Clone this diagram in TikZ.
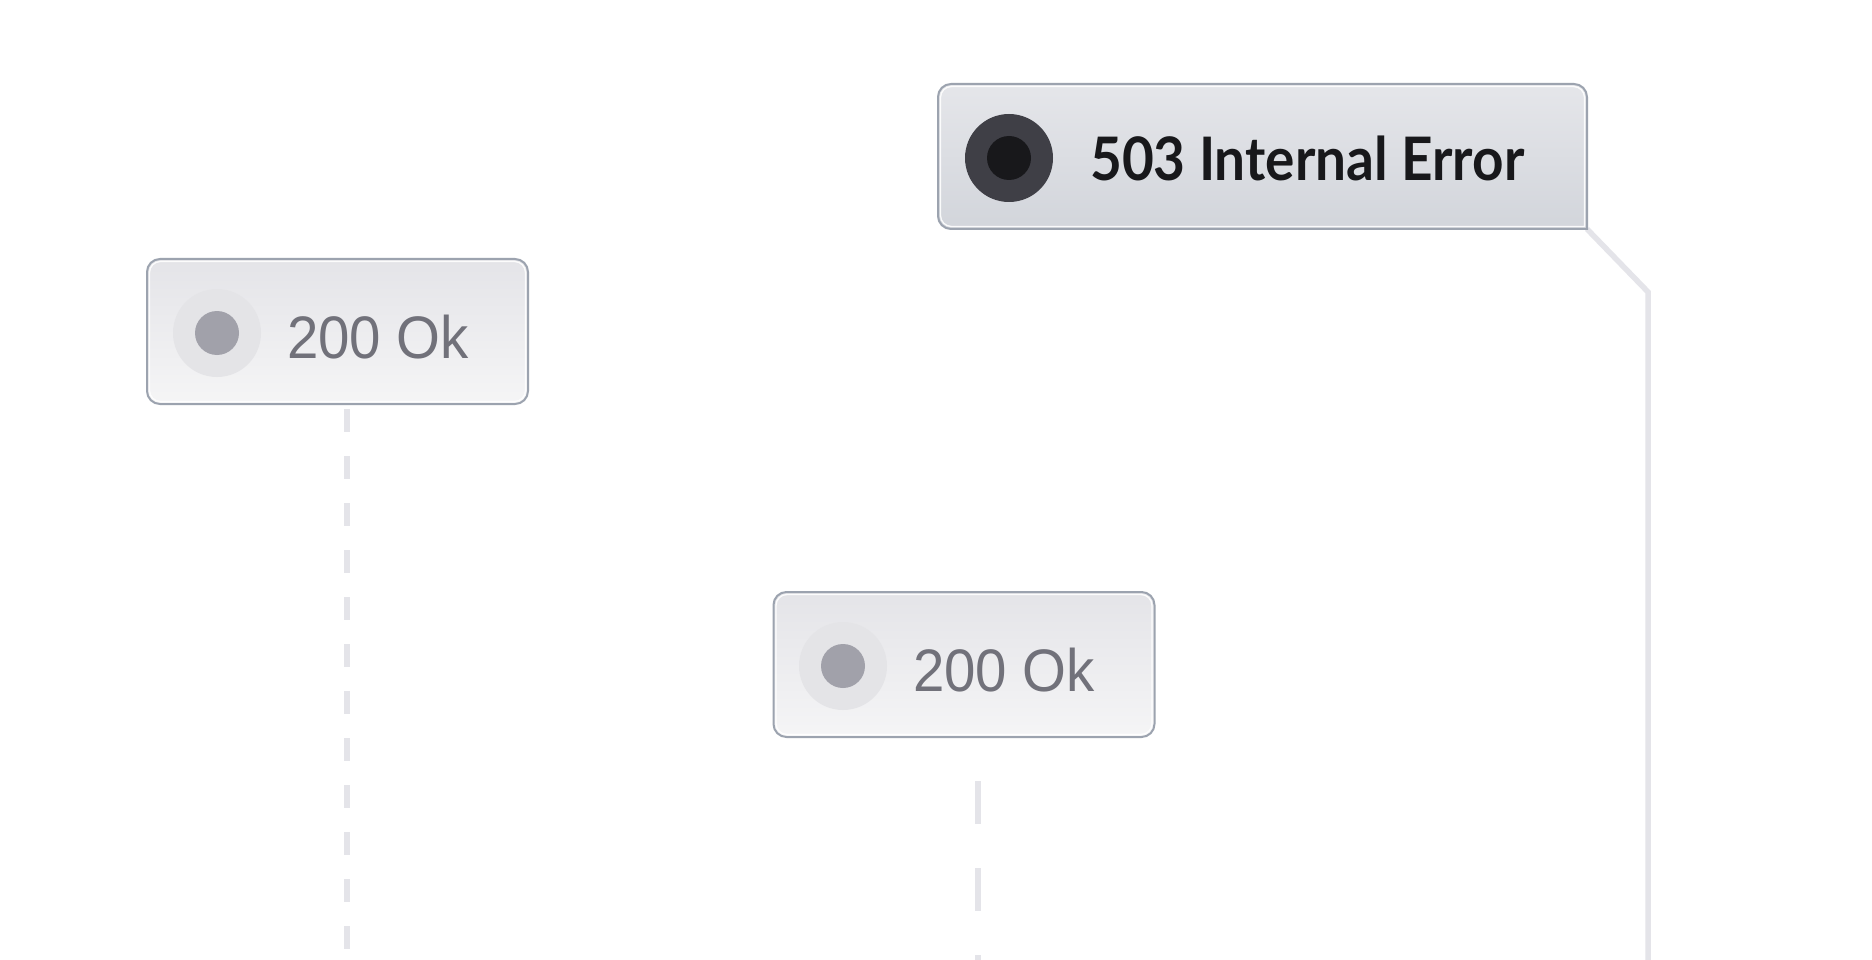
\documentclass[tikz,border=0pt]{standalone}
\usepackage{fontspec}
\setmainfont{Liberation Sans}
\newfontfamily\oklabelfont[FakeStretch=0.94]{Liberation Sans}
\newfontfamily\errlabelfont[FakeStretch=0.915]{Lato}
\usetikzlibrary{calc}
\definecolor{boxborder}{HTML}{9CA3AF}
\definecolor{okTop}{HTML}{E4E4E8}
\definecolor{okBot}{HTML}{F5F5F6}
\definecolor{errTop}{HTML}{E5E6EA}
\definecolor{errBot}{HTML}{D2D5DB}
\definecolor{okRing}{HTML}{E4E4E7}
\definecolor{okDot}{HTML}{A1A1AA}
\definecolor{errRing}{HTML}{3F3F46}
\definecolor{errDot}{HTML}{18181B}
\definecolor{okText}{HTML}{71717A}
\definecolor{errText}{HTML}{18181B}
\definecolor{wire}{HTML}{E4E4E9}
\begin{document}
\begin{tikzpicture}[x=1pt,y=-1pt,
  boxbase/.style={rectangle, minimum height=145pt, inner sep=0pt, outer sep=0pt},
  okbox/.style={boxbase, minimum width=381pt, rounded corners=13pt, draw=boxborder, line width=2pt, top color=okTop, bottom color=okBot},
  errbox/.style={boxbase, minimum width=649pt},
  errshape/.style={draw=boxborder, line width=2pt, top color=errTop, bottom color=errBot},
  hilite/.style={draw=white, line width=1.3pt, opacity=0.9},
  okring/.style={circle, minimum size=88pt, inner sep=0pt, fill=okRing},
  okdot/.style={circle, minimum size=44pt, inner sep=0pt, fill=okDot},
  errring/.style={circle, minimum size=88pt, inner sep=0pt, fill=errRing},
  errdot/.style={circle, minimum size=44pt, inner sep=0pt, fill=errDot},
  oklabel/.style={anchor=base west, inner sep=0pt, text=okText, font=\oklabelfont\fontsize{60}{72}\selectfont},
  errlabel/.style={anchor=base west, inner sep=0pt, text=errText, font=\errlabelfont\bfseries\fontsize{60}{72}\selectfont},
  dashA/.style={draw=wire, line width=6pt, dash pattern=on 23pt off 24pt},
  dashB/.style={draw=wire, line width=6pt, dash pattern=on 43pt off 44pt, dash phase=43pt},
  errwire/.style={draw=wire, line width=5.5pt}
]
\fill[white] (0,0) rectangle (1872,960);
\useasboundingbox (0,0) rectangle (1872,960);

% coordinates for free connector ends
\coordinate (end1) at (347,960);
\coordinate (end2) at (978,960);
\coordinate (ebend) at (1648,292);
\coordinate (eend) at (1648,960);

% error box (shape node)
\node[errbox] (err) at (1262.5,156.5) {};
\draw[errwire] (err.south east) -- (ebend) -- (eend);
\draw[errshape] (err.east) [rounded corners=13pt] -- (err.north east) -- (err.north west) -- (err.south west) [sharp corners] -- (err.south east) -- cycle;
\draw[hilite] ($(err.east)+(-2.5,0)$) [rounded corners=11pt] -- ($(err.north east)+(-2.5,2.5)$) -- ($(err.north west)+(2.5,2.5)$) -- ($(err.south west)+(2.5,-2.5)$) [sharp corners] -- ($(err.south east)+(-2.5,-2.5)$) -- cycle;
\node[errring] (er) at (1009,158) {};
\node[errdot] (ed) at (er) {};
\node[errlabel] (et) at (1090,181) {503 Internal Error};

% first 200 Ok box
\node[okbox] (ok1) at (337.5,331.5) {};
\draw[hilite, rounded corners=11pt] ([shift={(2.5,2.5)}]ok1.north west) rectangle ([shift={(-2.5,-2.5)}]ok1.south east);
\node[okring] (r1) at (217,333) {};
\node[okdot] (d1) at (r1) {};
\node[oklabel] (t1) at (287,358) {200 Ok};
\draw[dashA] ($(ok1.south -| end1)+(0,5)$) -- (end1);

% second 200 Ok box
\node[okbox] (ok2) at (964,664.5) {};
\draw[hilite, rounded corners=11pt] ([shift={(2.5,2.5)}]ok2.north west) rectangle ([shift={(-2.5,-2.5)}]ok2.south east);
\node[okring] (r2) at (843,666) {};
\node[okdot] (d2) at (r2) {};
\node[oklabel] (t2) at (913,691) {200 Ok};
\draw[dashB] (ok2.south -| end2) -- (end2);
\end{tikzpicture}
\end{document}
